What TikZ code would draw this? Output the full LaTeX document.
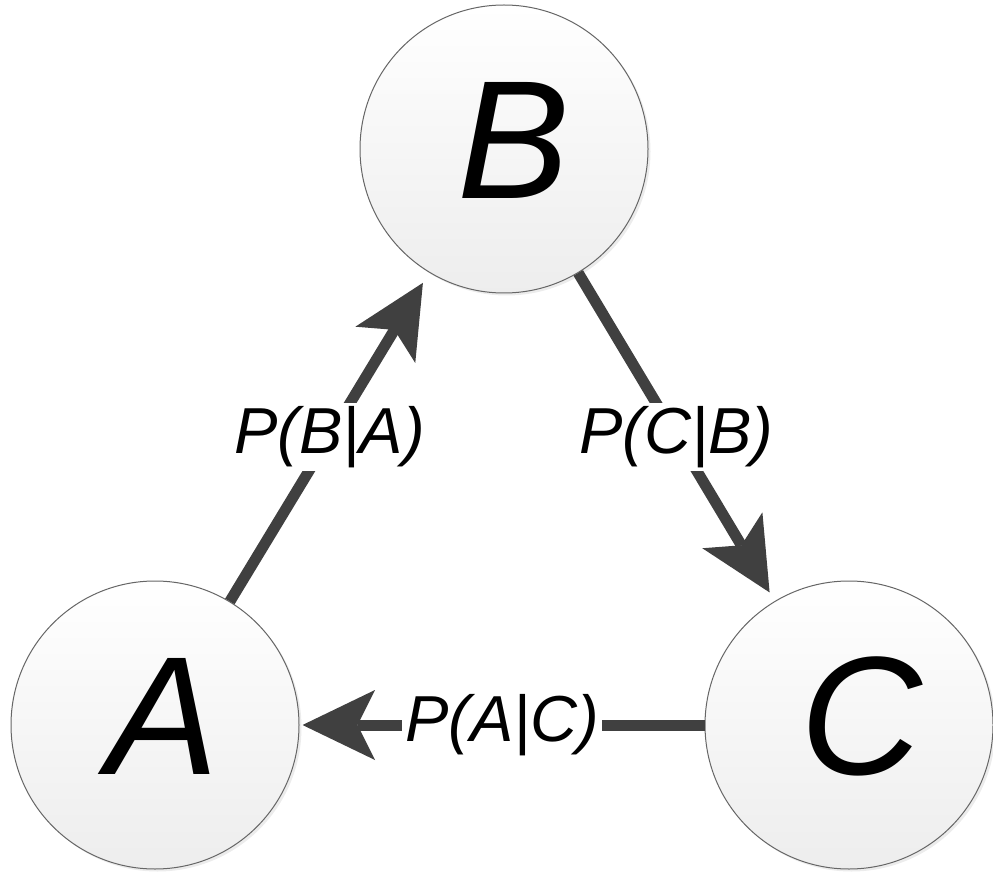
\documentclass[tikz,border=0pt]{standalone}
\usepackage{fontspec}
\setmainfont{Liberation Sans}
\usepackage{tikz}
\usetikzlibrary{arrows.meta, positioning, shadows}
\definecolor{darkline}{rgb}{0.25, 0.25, 0.25}
\definecolor{rimgray}{rgb}{0.4, 0.4, 0.4}
\definecolor{lowgray}{rgb}{0.93, 0.93, 0.93}

\tikzset{
	event/.style={circle, draw=rimgray, line width=0.02cm, minimum size=5.76cm, inner sep=0pt,
		top color=white, bottom color=lowgray,
		drop shadow={shadow xshift=0.05cm, shadow yshift=-0.05cm, fill=black!12, opacity=0.6},
		font=\fontsize{96}{96}\selectfont\itshape, text depth=0.36cm},
	link/.style={darkline, line width=0.22cm,
		-{Stealth[length=1.45cm, width=1.4cm, inset=0.35cm, line width=0pt]}},
	prob/.style={fill=white, inner sep=0.06cm, text=black,
		font=\fontsize{37}{37}\selectfont\itshape}
}

\begin{document}
\begin{tikzpicture}
		\useasboundingbox (0,0) rectangle (19.86,-17.5);
		% the three events
		\node [event] (A) at (3.1,-14.5) {\kern0.3cm A};
		\node [event] (B) at (10.08,-2.98) {\kern0.4cm B};
		\node [event] (C) at (16.98,-14.5) {\kern0.5cm C};
		
		% transitions with their labels
		\draw [link, shorten >=0.24cm] (A) -- (B) node [prob, midway] {P(B|A)};
		\draw [link, shorten >=0.2cm] (B) -- (C) node [prob, midway] {P(C|B)};
		\draw [link, shorten >=0.06cm] (C) -- (A) node [prob, midway] {P(A|C)};
	\end{tikzpicture}
\end{document}
